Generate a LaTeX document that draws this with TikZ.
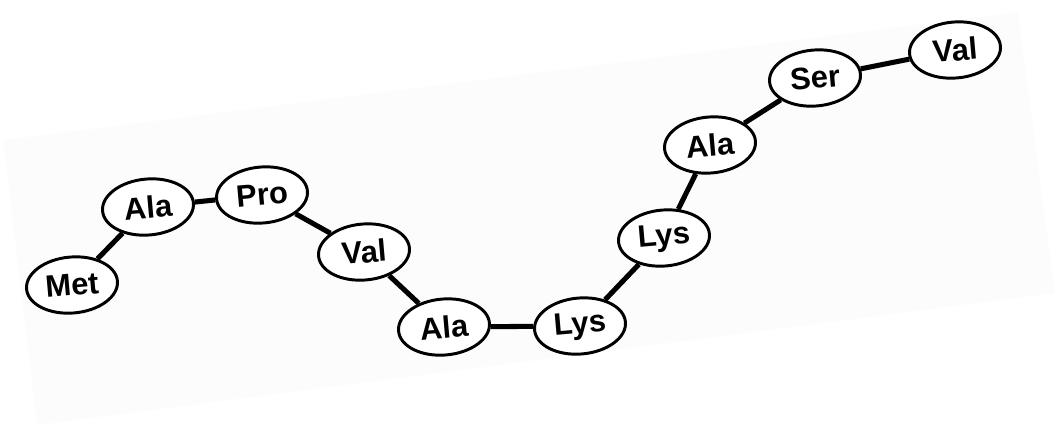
\documentclass[tikz,border=0pt]{standalone}
\usepackage{fontspec}
\setmainfont{Liberation Sans}
\usepackage{tikz}
\usetikzlibrary{shapes.geometric}

\tikzset{
  amino/.style={ellipse,draw,fill=white,line width=2.1pt,rotate=5,
    minimum width=2.28cm,minimum height=1.4cm,inner sep=0pt,
    font=\fontsize{22}{26}\selectfont\bfseries},
  bond/.style={line width=3.6pt}
}

\begin{document}
\begin{tikzpicture}[x=0.025cm,y=-0.025cm]
\useasboundingbox (0,0) rectangle (1056,437);
% faint scanned sheet
\fill[black!1] (3,140) -- (1018,12) -- (1055,293) -- (37,425) -- cycle;

\foreach\x/\y/\t[count=\i] in{72/285/Met,148/207/Ala,262/195/Pro,364/252/Val,444/327/Ala,580/326/Lys,664/238/Lys,710/145/Ala,815/78/Ser,955/50/Val}{\node[amino] (aa\i) at(\x,\y){\t};};

\foreach\i[count=\j from 2] in{1,...,9}{\draw[bond] (aa\i) -- (aa\j);};
\end{tikzpicture}
\end{document}
